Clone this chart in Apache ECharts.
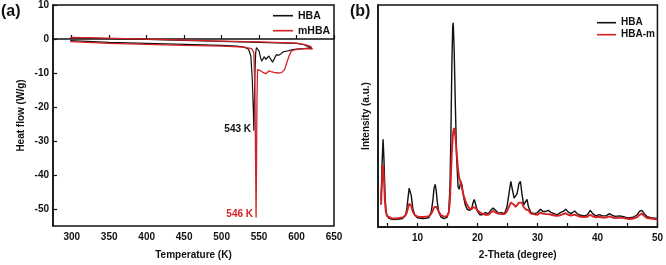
<!DOCTYPE html>
<html>
<head>
<meta charset="utf-8">
<script src="https://cdn.jsdelivr.net/npm/echarts@6/dist/echarts.min.js"></script>
<style>
  html, body { margin: 0; padding: 0; background: #fff; }
  #chart { width: 666px; height: 265px; }
</style>
</head>
<body>
<div id="chart"></div>
<script>
// (a) DSC loops: heating run then cooling run, in drawing order
const tempHBA = [298, 300, 350, 400, 450, 500, 520, 530, 536, 539, 541, 542.5, 543, 543.5, 544.5, 545.5, 546.5, 548,
  550, 552, 553.5, 555, 557, 559, 561, 563, 565, 568, 571, 573, 576, 579, 582, 586, 590, 595, 600, 610, 618, 621,
  620, 610, 600, 550, 500, 400, 300, 298];
const flowHBA = [-0.5, -0.8, -1.0, -1.3, -1.6, -1.9, -2.1, -2.4, -3.0, -5, -12, -22, -27, -22, -10, -4, -2.5, -2.3,
  -3.5, -5.5, -6.5, -6, -5.2, -6, -6.5, -5, -5.2, -6.8, -5.5, -4.6, -4.8, -4.4, -3.8, -3.6, -3.4, -3.1, -3.0, -2.8, -2.7, -2.8,
  -2.4, -1.7, -1.3, -1.0, -0.7, -0.15, 0.4, 0.3];

const tempMHBA = [298, 300, 350, 400, 450, 500, 530, 540, 543, 544.5, 545.5, 546, 546.5, 547.2, 548,
  549, 551, 553, 555, 557, 559, 561, 563, 566, 570, 575, 580, 584, 587, 590, 593, 597, 605, 615, 621,
  622, 619, 610, 600, 550, 500, 400, 300, 298];
const flowMHBA = [-0.8, -1.1, -1.3, -1.6, -1.9, -2.1, -2.4, -2.8, -4, -15, -40, -52.5, -40, -18, -9,
  -8.6, -9.2, -8.8, -9.8, -9.5, -10.2, -9.8, -9.4, -9.6, -9.8, -10, -9.9, -9, -7, -5, -3.6, -3.2, -3.0, -2.8, -3.0,
  -2.8, -2.2, -1.6, -1.2, -0.85, -0.6, -0.05, 0.5, 0.4];

// (b) XRD patterns
const theta = [3.9, 4.0, 4.1, 4.25, 4.4, 4.55, 4.7, 4.9, 5.2, 5.6, 6.0, 6.5, 7.0, 7.5, 8.0, 8.2, 8.4, 8.6, 8.75, 8.95,
  9.2, 9.5, 9.9, 10.4, 10.9, 11.4, 11.9, 12.3, 12.55, 12.75, 12.93, 13.1, 13.3, 13.55, 13.9, 14.4, 14.9, 15.2, 15.4, 15.55,
  15.7, 15.85, 15.95, 16.1, 16.3, 16.5, 16.75, 16.95, 17.2, 17.4, 17.65, 17.95, 18.25, 18.6, 19.0, 19.25, 19.45, 19.7, 20.0, 20.4,
  20.8, 21.3, 21.8, 22.2, 22.6, 23.0, 23.5, 24.0, 24.5, 24.9, 25.3, 25.55, 25.8, 26.1, 26.35, 26.6, 26.9, 27.15, 27.4, 27.7,
  28.0, 28.25, 28.5, 28.9, 29.5, 30.0, 30.5, 30.9, 31.4, 31.8, 32.3, 32.8, 33.3, 33.8, 34.3, 34.7, 35.1, 35.6, 36.2, 36.7,
  37.2, 37.8, 38.3, 38.8, 39.2, 39.7, 40.3, 40.8, 41.4, 42.0, 42.5, 43.0, 43.6, 44.2, 44.8, 45.4, 46.0, 46.6, 47.0, 47.4,
  47.8, 48.3, 48.9, 49.5, 50.0];
const hbaXRD = [12, 20, 30, 39.5, 30, 16, 8, 5, 4, 3.6, 3.4, 3.5, 3.6, 3.8, 5.5, 8, 13, 17.5, 18.4, 14,
  8.5, 5.5, 4.3, 3.9, 3.8, 3.9, 4.3, 7, 12, 17.5, 19.2, 16.5, 11, 6.5, 4.5, 3.8, 4.3, 7, 18, 40,
  70, 90, 92, 80, 55, 32, 18, 17, 20.6, 19, 14, 10, 8, 7.5, 8, 11, 12.4, 10, 7, 5.5,
  5.5, 6.5, 6, 7.5, 8.5, 7.5, 6.2, 6.5, 6, 9, 16, 20.6, 17, 13, 12.4, 15, 19.5, 20.6, 15, 10,
  10.5, 12.4, 9, 6.5, 6, 6.5, 8, 7, 7, 7.5, 6.5, 6, 5.5, 6.5, 7, 8, 6.8, 6, 7.2, 5.8,
  5.3, 5, 5.5, 7.5, 6, 5, 5.6, 5, 5, 6, 5.2, 4.8, 5, 4.8, 4.3, 4.2, 4.4, 5.5, 7, 7.5,
  6, 4.6, 4.2, 4, 3.8];
const hbamXRD = [10, 16, 22, 28, 21, 12, 7, 5, 4.2, 4, 3.8, 3.9, 4.1, 4.3, 5.2, 6.5, 8.5, 10.5, 11, 9.5,
  7, 5.5, 4.8, 4.5, 4.5, 4.7, 4.9, 6, 7.5, 8.8, 9.4, 9.2, 8.3, 6.8, 5.3, 4.7, 4.9, 6.5, 12, 22,
  33, 40, 43, 44.6, 41, 34, 26, 22, 20, 17.5, 14.5, 12, 10, 8.5, 8, 9, 9.4, 8.5, 7.5, 6.5,
  6, 5.5, 5.5, 6.5, 7.2, 6.5, 6, 5.8, 5.8, 7, 9.5, 11, 11, 10, 9, 9.5, 11, 11.7, 11, 9,
  8, 8.5, 7.5, 6, 5.7, 5.5, 6.5, 6, 5.8, 5.8, 5.5, 5.2, 5, 5.3, 5.8, 6.2, 5.5, 5.2, 5.6, 5,
  4.6, 4.5, 4.6, 5.5, 4.8, 4.4, 4.6, 4.3, 4.2, 4.8, 4.3, 4, 4.1, 4.1, 3.8, 3.6, 3.8, 4.5, 5.5, 6,
  5, 4, 3.8, 3.6, 3.5];

const tempTicks = [300, 350, 400, 450, 500, 550, 600, 650];
const flowTicks = [-50, -40, -30, -20, -10, 0, 10];
const thetaTicks = [5, 10, 15, 20, 25, 30, 35, 40, 45, 50];
const thetaLabels = [10, 20, 30, 40, 50];

const BLACK = '#111';
const RED = '#d62024';
const FONT = 'Liberation Sans';

const zip = (xs, ys) => xs.map((x, i) => [x, ys[i]]);

const chart = echarts.init(document.getElementById('chart'));

const baseX = {
  type: 'value',
  nameLocation: 'middle',
  nameTextStyle: { fontFamily: FONT, fontWeight: 'bold', fontSize: 10, color: '#111' },
  axisLine: { show: true, lineStyle: { color: '#111', width: 1.5 } },
  axisTick: { show: true, inside: true, length: 4, lineStyle: { color: '#111', width: 1.2 } },
  axisLabel: { fontFamily: FONT, fontWeight: 'bold', fontSize: 10, color: '#111', margin: 6 },
  splitLine: { show: false }
};

chart.setOption({
  animation: false,
  backgroundColor: '#fff',
  grid: [
    { left: 53, top: 5, width: 281, height: 224, show: true, borderColor: '#111', borderWidth: 1.5 },
    { left: 378, top: 5, width: 281, height: 223, show: true, borderColor: '#111', borderWidth: 1.5 }
  ],
  xAxis: [
    Object.assign({}, baseX, {
      gridIndex: 0, min: 275, max: 650, name: 'Temperature (K)', nameGap: 24,
      axisTick: Object.assign({}, baseX.axisTick, { customValues: tempTicks }),
      axisLabel: Object.assign({}, baseX.axisLabel, { customValues: tempTicks })
    }),
    Object.assign({}, baseX, {
      gridIndex: 1, min: 3.4, max: 50, name: '2-Theta (degree)', nameGap: 23,
      axisTick: Object.assign({}, baseX.axisTick, { customValues: thetaTicks }),
      axisLabel: Object.assign({}, baseX.axisLabel, { customValues: thetaLabels })
    })
  ],
  yAxis: [
    Object.assign({}, baseX, {
      gridIndex: 0, min: -55, max: 10, name: 'Heat flow (W/g)', nameGap: 27,
      axisTick: Object.assign({}, baseX.axisTick, { customValues: flowTicks }),
      axisLabel: Object.assign({}, baseX.axisLabel, { customValues: flowTicks, margin: 4 })
    }),
    Object.assign({}, baseX, {
      gridIndex: 1, min: 0, max: 100, name: 'Intensity (a.u.)', nameGap: 7,
      axisTick: { show: false },
      axisLabel: { show: false }
    })
  ],
  legend: [
    {
      data: ['HBA', 'mHBA'], orient: 'vertical', left: 273, top: 9.7, itemGap: 3, padding: 0,
      icon: 'rect', itemWidth: 20, itemHeight: 1.6,
      textStyle: { fontFamily: FONT, fontWeight: 'bold', fontSize: 10.5, color: '#111', lineHeight: 12 }
    },
    {
      data: ['HBA', 'HBA-m'], orient: 'vertical', left: 597, top: 16.7, itemGap: 0, padding: 0,
      icon: 'rect', itemWidth: 19, itemHeight: 1.6,
      textStyle: { fontFamily: FONT, fontWeight: 'bold', fontSize: 10, color: '#111', lineHeight: 12 }
    }
  ],
  series: [
    { name: 'HBA', type: 'line', xAxisIndex: 0, yAxisIndex: 0, data: zip(tempHBA, flowHBA),
      showSymbol: false, lineStyle: { color: BLACK, width: 1.2 }, itemStyle: { color: BLACK } },
    { name: 'mHBA', type: 'line', xAxisIndex: 0, yAxisIndex: 0, data: zip(tempMHBA, flowMHBA),
      showSymbol: false, lineStyle: { color: RED, width: 1.3 }, itemStyle: { color: RED } },
    { name: 'HBA', type: 'line', xAxisIndex: 1, yAxisIndex: 1, data: zip(theta, hbaXRD),
      showSymbol: false, lineStyle: { color: BLACK, width: 1.4 }, itemStyle: { color: BLACK } },
    { name: 'HBA-m', type: 'line', xAxisIndex: 1, yAxisIndex: 1, data: zip(theta, hbamXRD),
      showSymbol: false, lineStyle: { color: RED, width: 1.9 }, itemStyle: { color: RED } }
  ],
  graphic: [
    { type: 'text', left: 1, top: 4, style: { text: '(a)', fontFamily: FONT, fontWeight: 'bold', fontSize: 16, fill: '#111' } },
    { type: 'text', left: 350, top: 4, style: { text: '(b)', fontFamily: FONT, fontWeight: 'bold', fontSize: 16, fill: '#111' } },
    { type: 'text', right: 666 - 251, top: 124, style: { text: '543 K', fontFamily: FONT, fontWeight: 'bold', fontSize: 10, fill: '#111' } },
    { type: 'text', right: 666 - 253, top: 209, style: { text: '546 K', fontFamily: FONT, fontWeight: 'bold', fontSize: 10, fill: RED } }
  ]
});
</script>
</body>
</html>
